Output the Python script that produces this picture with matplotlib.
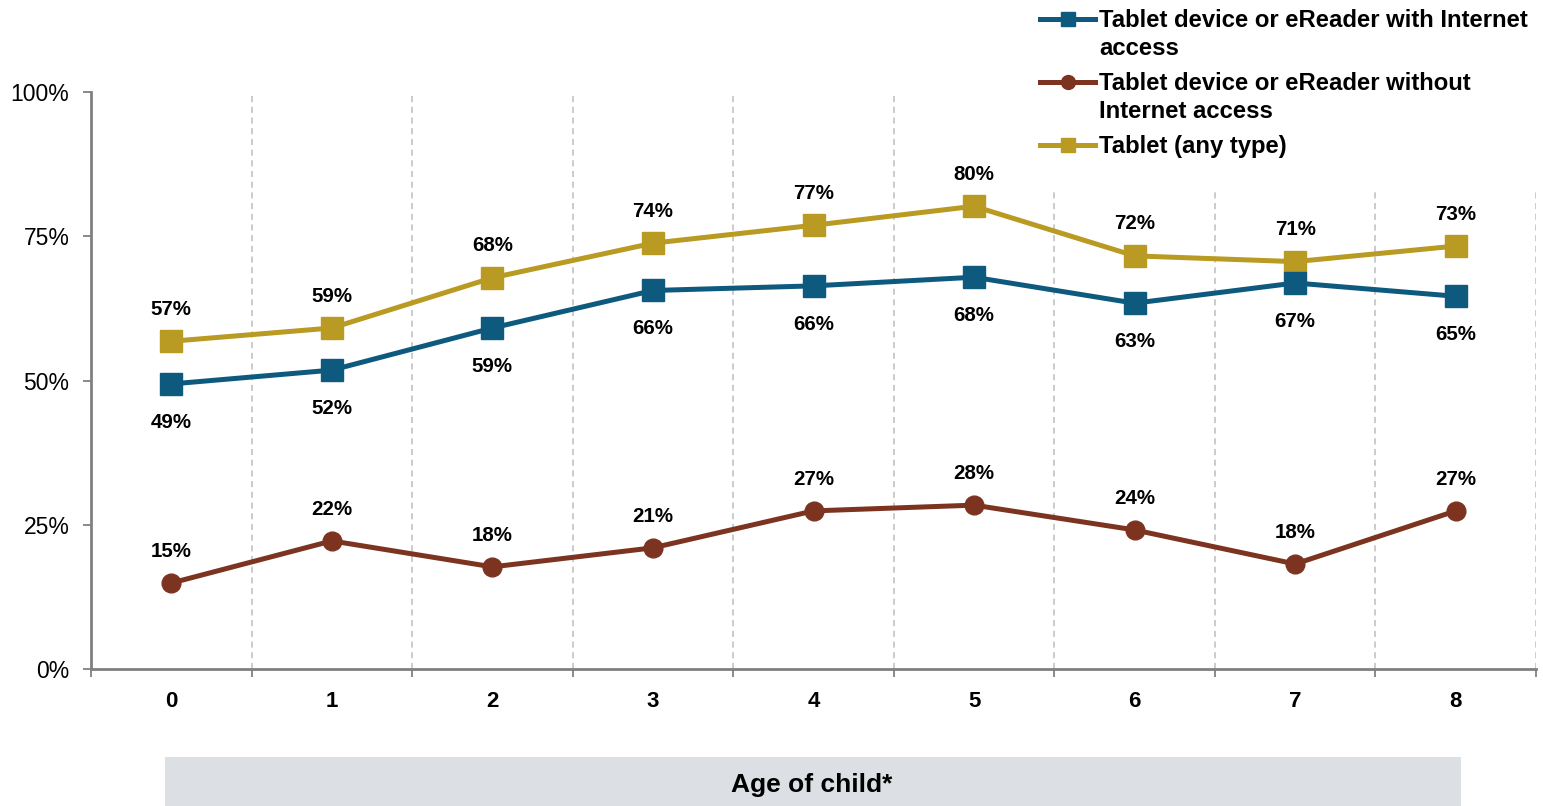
import matplotlib
matplotlib.use("Agg")
import matplotlib.pyplot as plt
from matplotlib.lines import Line2D
from matplotlib.patches import Rectangle

plt.rcParams['font.family'] = ['Liberation Sans', 'DejaVu Sans']

ages = ["0", "1", "2", "3", "4", "5", "6", "7", "8"]
with_internet = [49.4, 51.8, 59.1, 65.6, 66.4, 67.9, 63.4, 66.9, 64.6]
without_internet = [14.9, 22.2, 17.7, 21.0, 27.4, 28.4, 24.1, 18.2, 27.4]
any_tablet = [56.8, 59.1, 67.8, 73.8, 76.9, 80.2, 71.6, 70.6, 73.3]
y_ticks = [0, 25, 50, 75, 100]
series_names = ["Tablet device or eReader with Internet\naccess",
                "Tablet device or eReader without\nInternet access",
                "Tablet (any type)"]
x_title = "Age of child*"

c_blue = "#0E5A7F"
c_brown = "#7C3421"
c_gold = "#B99A22"
c_axis = "#808080"

W, H = 1543, 806
fig = plt.figure(figsize=(W / 100, H / 100), dpi=100)
ax = fig.add_axes([91 / W, 1 - 669 / H, (1536 - 91) / W, (669 - 92) / H])

x = list(range(len(ages)))

# vertical dashed separators
for b in [i + 0.5 for i in range(len(ages))]:
    ax.axvline(b, color="#BDBDBD", lw=1.1, ls=(0, (4, 3)), zorder=1)

ax.plot(x, any_tablet, color=c_gold, lw=3.6, marker="s", ms=15.5, zorder=3)
ax.plot(x, with_internet, color=c_blue, lw=3.6, marker="s", ms=15.5, zorder=4)
ax.plot(x, without_internet, color=c_brown, lw=3.6, marker="o", ms=13.5, zorder=3)

lab_kw = dict(ha="center", va="center", fontsize=14.8, fontweight="bold",
              textcoords="offset points", color="black")
for xi, v in zip(x, any_tablet):
    ax.annotate(f"{round(v)}%", (xi, v), xytext=(0, 23), **lab_kw)
for xi, v in zip(x, with_internet):
    ax.annotate(f"{round(v)}%", (xi, v), xytext=(0, -27.5), **lab_kw)
for xi, v in zip(x, without_internet):
    ax.annotate(f"{round(v)}%", (xi, v), xytext=(0, 22.5), **lab_kw)

ax.set_xlim(-0.5, len(ages) - 0.5)
ax.set_ylim(0, 100)
ax.set_yticks(y_ticks)
ax.set_yticklabels([f"{t}%" for t in y_ticks], fontsize=16.5)
ax.set_xticks(x)
ax.set_xticklabels(ages, fontsize=16, fontweight="bold")
ax.set_xticks([i - 0.5 for i in range(len(ages) + 1)], minor=True)
ax.tick_params(axis="x", which="major", length=0, pad=15.5)
ax.tick_params(axis="x", which="minor", length=6, width=1.3, color=c_axis, direction="out")
ax.tick_params(axis="y", length=6, width=1.3, color=c_axis, direction="out", pad=9.5)

for s in ["top", "right"]:
    ax.spines[s].set_visible(False)
for s in ["left", "bottom"]:
    ax.spines[s].set_color(c_axis)
    ax.spines[s].set_linewidth(2)

# white area behind legend
fig.patches.append(Rectangle((1040 / W, 1 - 190 / H), 1, 190 / H,
                             transform=fig.transFigure, facecolor="white",
                             edgecolor="none", zorder=1))

# legend (manual, figure coords)
leg_colors = [c_blue, c_brown, c_gold]
leg_markers = ["s", "o", "s"]
leg_y = [19, 82, 145]
for name, col, mk, yy in zip(series_names, leg_colors, leg_markers, leg_y):
    yf = 1 - yy / H
    fig.add_artist(Line2D([1040 / W, 1095 / W], [yf, yf], transform=fig.transFigure,
                          color=col, lw=3.6, zorder=2))
    fig.add_artist(Line2D([1067.5 / W], [yf], transform=fig.transFigure,
                          color=col, marker=mk, ms=10, lw=0, zorder=2))
    fig.text(1099 / W, 1 - (yy - 10) / H, name, ha="left", va="top", fontsize=17.2,
             fontweight="bold", linespacing=1.27, zorder=3)

# x-axis title box
fig.patches.append(Rectangle((165 / W, 0), (1461 - 165) / W, (806 - 757) / H,
                             transform=fig.transFigure, facecolor="#DCDFE3",
                             edgecolor="none", zorder=1))
fig.text(812 / W, 1 - 785 / H, x_title, ha="center", va="center", fontsize=19,
         fontweight="bold", zorder=2)

fig.savefig("out.png", dpi=100)
